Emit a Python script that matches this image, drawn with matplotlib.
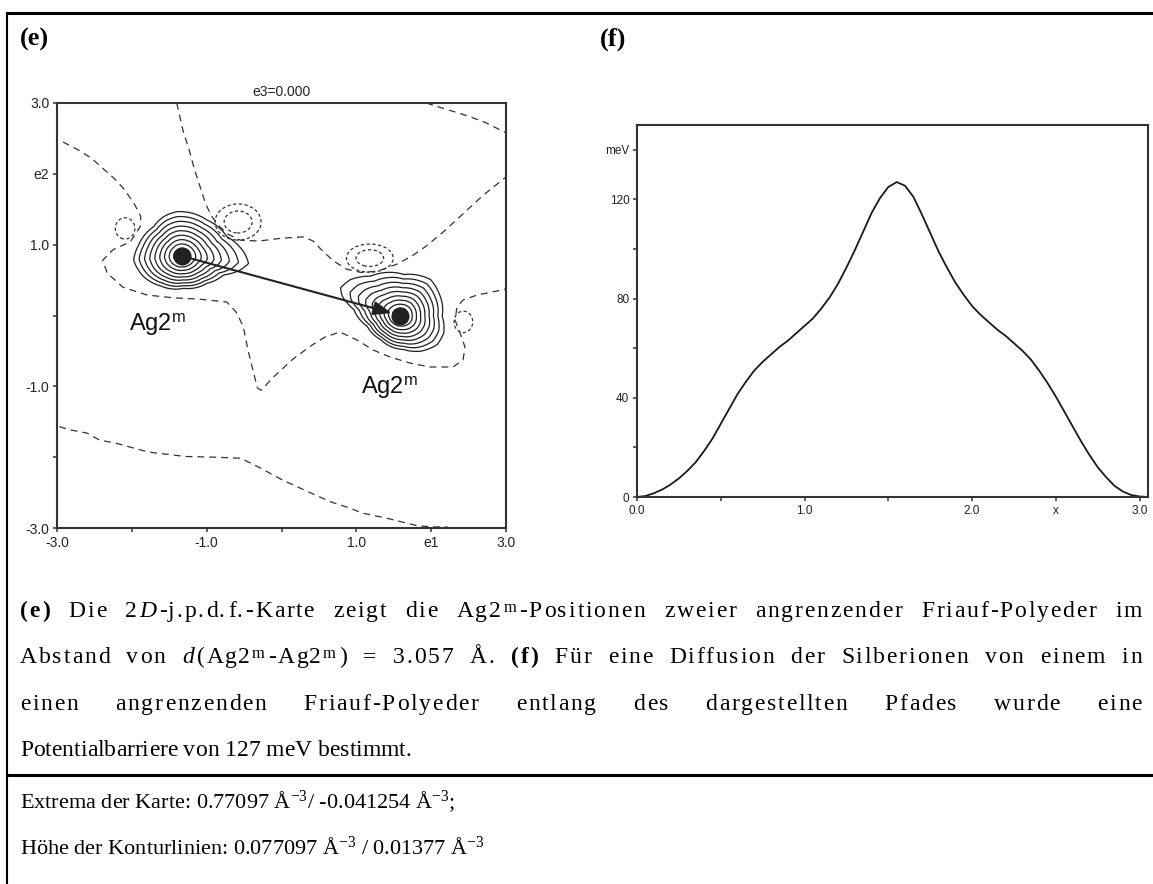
import re
import numpy as np
import matplotlib
matplotlib.use("Agg")
import matplotlib.pyplot as plt
from matplotlib.lines import Line2D

plt.rcParams['font.family'] = ['Liberation Sans', 'DejaVu Sans']
plt.rcParams['mathtext.fontset'] = 'custom'
plt.rcParams['mathtext.rm'] = 'Liberation Serif'
plt.rcParams['mathtext.it'] = 'Liberation Serif:italic'
plt.rcParams['mathtext.bf'] = 'Liberation Serif:bold'
plt.rcParams['mathtext.sf'] = 'Liberation Sans'

# ---------------- panel (e): 2D j.p.d.f. map ----------------
map_title = "e3=0.000"
map_ticks = [-3, -2, -1, 0, 1, 2, 3]
map_xticklabels = ["-3.0", "", "-1.0", "", "1.0", "e1", "3.0"]
map_yticklabels = ["-3.0", "", "-1.0", "", "1.0", "e2", "3.0"]

map_max = 0.77097
map_min = -0.041254
contour_step_pos = 0.077097
contour_step_neg = 0.01377

# Ag2m maxima (centres, heights, core width)
peak_x = [-1.33, 1.59]
peak_y = [0.84, 0.00]
peak_amp = [0.84, 0.84]
peak_core = [0.62, 0.58]

# outermost solid contour of each maximum, relative to its centre
left_outline_dx = [-0.067, 0.334, 0.601, 0.824, 0.891, 0.780, 0.557, 0.334, 0.022,
                   -0.290, -0.512, -0.646, -0.579, -0.379, -0.245]
left_outline_dy = [0.626, 0.508, 0.273, 0.061, -0.104, -0.198, -0.268, -0.386, -0.456,
                   -0.420, -0.292, -0.056, 0.155, 0.414, 0.555]
right_outline_dx = [-0.802, -0.668, -0.401, 0.045, 0.401, 0.512, 0.557, 0.579, 0.490,
                    0.267, 0.045, -0.267, -0.445, -0.624, -0.779]
right_outline_dy = [0.391, 0.508, 0.555, 0.579, 0.508, 0.320, -0.009, -0.245, -0.410,
                    -0.504, -0.480, -0.339, -0.151, 0.085, 0.273]

# negative minima (dashed rings)
dip_x = [-2.09, -0.58, 1.18, 2.43]
dip_y = [1.23, 1.32, 0.81, -0.09]
dip_amp = [0.022, 0.0413, 0.040, 0.022]
dip_sx = [0.135, 0.207, 0.214, 0.129]
dip_sy = [0.155, 0.172, 0.136, 0.156]

# zero-level contour lines (dashed)
zero_a_x = [-1.40, -1.314, -1.240, -1.165, -1.091, -1.017, -0.942, -0.843, -0.719, -0.545,
            -0.298, 0.0, 0.297, 0.421, 0.545, 0.694, 0.868, 1.066, 1.289, 1.537, 1.735,
            1.934, 2.182, 2.430, 2.678, 2.975, 3.0]
zero_a_y = [3.0, 2.603, 2.361, 2.069, 1.827, 1.585, 1.416, 1.271, 1.149, 1.062,
            1.052, 1.091, 1.110, 1.052, 0.916, 0.771, 0.655, 0.607, 0.627, 0.723, 0.834,
            0.980, 1.198, 1.440, 1.682, 1.935, 1.955]
zero_b_x = [1.934, 2.182, 2.479, 2.727, 3.0]
zero_b_y = [3.0, 2.918, 2.821, 2.724, 2.578]
zero_c_x = [-2.97, -2.80, -2.60, -2.43, -2.22, -1.785, -1.289, -0.893, -0.545, -0.298, 0.0,
            0.347, 0.662, 0.889, 1.084, 1.423, 1.824, 2.05, 2.22]
zero_c_y = [-1.57, -1.62, -1.66, -1.76, -1.80, -1.927, -1.990, -2.000, -2.015, -2.145, -2.315,
            -2.484, -2.633, -2.71, -2.79, -2.866, -2.97, -2.985, -2.985]
zero_d_x = [-2.92, -2.72, -2.54, -2.39, -2.23, -2.10, -1.97, -1.88, -1.89, -2.02, -2.25,
            -2.39, -2.33, -2.12, -1.80, -1.45, -1.09, -0.73, -0.60, -0.51, -0.446, -0.372,
            -0.322, -0.273, -0.099, 0.149, 0.397, 0.581, 0.782, 1.009, 1.223, 1.450, 1.717,
            1.985, 2.292, 2.426, 2.452, 2.386, 2.319, 2.345, 2.426, 2.613, 2.880, 3.0]
zero_d_y = [2.45, 2.34, 2.22, 2.08, 1.93, 1.78, 1.58, 1.40, 1.25, 1.04, 0.93,
            0.78, 0.60, 0.40, 0.29, 0.25, 0.23, 0.19, 0.04, -0.16, -0.498, -0.813,
            -1.021, -1.055, -0.861, -0.619, -0.425, -0.304, -0.233, -0.346, -0.487, -0.586, -0.671,
            -0.727, -0.727, -0.628, -0.445, -0.247, -0.064, 0.120, 0.219, 0.289, 0.346, 0.374]

atom_label = "Ag2$^{\\mathsf{m}}$"
atom_label_x = [-2.04, 1.06]
atom_label_y = [-0.12, -1.01]

# ---------------- panel (f): potential barrier ----------------
path_x = [0.00, 0.05, 0.10, 0.15, 0.20, 0.25, 0.30, 0.35, 0.40, 0.45, 0.50, 0.55, 0.60,
          0.65, 0.70, 0.75, 0.80, 0.85, 0.90, 0.95, 1.00, 1.05, 1.10, 1.15, 1.20, 1.25,
          1.30, 1.35, 1.40, 1.45, 1.50, 1.55, 1.60, 1.65, 1.70, 1.75, 1.80, 1.85, 1.90,
          1.95, 2.00, 2.05, 2.10, 2.15, 2.20, 2.25, 2.30, 2.35, 2.40, 2.45, 2.50, 2.55,
          2.60, 2.65, 2.70, 2.75, 2.80, 2.85, 2.90, 2.95, 3.00, 3.05]
energy_meV = [0, 0.4, 1.5, 3, 5, 7.5, 10.5, 14, 18.5, 23.5, 29.5, 35.5, 41.5,
              46.5, 51, 54.5, 57.5, 60.5, 63, 66, 69, 72, 76, 80.5, 86, 92.5,
              99.5, 107, 114.5, 120.5, 125, 127, 125.5, 121, 114, 106.5, 99, 92.5, 86.5,
              81.5, 77, 73.5, 70.5, 67.5, 65, 62, 59, 55.5, 51, 46, 40.5, 34.5,
              28.5, 22.5, 17, 12, 8, 4.5, 2.2, 0.8, 0.2, 0]
f_xticks = [0, 0.5, 1.0, 1.5, 2.0, 2.5, 3.0]
f_xticklabels = ["0.0", "", "1.0", "", "2.0", "x", "3.0"]
f_yticks = [0, 20, 40, 60, 80, 100, 120, 140]
f_yticklabels = ["0", "", "40", "", "80", "", "120", "meV"]

# ---------------- caption ----------------
caption_lines = [
    ["(e)", "Die", "2$\\mathit{D}$-j.p.d.f.-Karte", "zeigt", "die", "Ag2$^{\\mathrm{m}}$-Positionen",
     "zweier", "angrenzender", "Friauf-Polyeder", "im"],
    ["Abstand", "von", "$\\mathit{d}$(Ag2$^{\\mathrm{m}}$-Ag2$^{\\mathrm{m}}$)", "=", "3.057", "Å.",
     "(f)", "Für", "eine", "Diffusion", "der", "Silberionen", "von", "einem", "in"],
    ["einen", "angrenzenden", "Friauf-Polyeder", "entlang", "des", "dargestellten", "Pfades",
     "wurde", "eine"],
    ["Potentialbarriere", "von", "127", "meV", "bestimmt."],
]
bold_words = {"(e)", "(f)"}
info_lines = [
    f"Extrema der Karte: {map_max} Å$^{{-3}}$/ {map_min} Å$^{{-3}}$;",
    f"Höhe der Konturlinien: {contour_step_pos} Å$^{{-3}}$ / {contour_step_neg} Å$^{{-3}}$",
]

# =====================================================================
W, H = 1153, 884
fig = plt.figure(figsize=(W / 100, H / 100), dpi=100)


def rect(l, t, r, b):
    return [l / W, 1 - b / H, (r - l) / W, (b - t) / H]


def fy(py):
    return 1 - py / H


def style(ax, lsize):
    for s in ax.spines.values():
        s.set_linewidth(1.5)
        s.set_color('#333333')
    ax.tick_params(direction='out', length=3, width=1.1, color='#333333',
                   labelsize=lsize, pad=2.5, labelcolor='#222222')


# ---- panel (e)
ax1 = fig.add_axes(rect(57, 103, 506, 528))
gx = np.linspace(-3, 3, 721)
GX, GY = np.meshgrid(gx, gx)


def peak_field(cx, cy, amp, core, odx, ody):
    dx = GX - cx
    dy = GY - cy
    r = np.hypot(dx, dy)
    th = np.arctan2(dy, dx)
    oth = np.arctan2(ody, odx)
    orr = np.hypot(odx, ody)
    order = np.argsort(oth)
    R = np.interp(th, oth[order], orr[order], period=2 * np.pi)
    u1 = 1 - contour_step_pos / amp
    rho_out = R / u1
    s = np.clip(r / R, 0, 1)
    rho = core + (rho_out - core) * s
    return amp * np.clip(1 - r / rho, 0, None)


outlines = [(np.array(left_outline_dx), np.array(left_outline_dy)),
            (np.array(right_outline_dx), np.array(right_outline_dy))]
pos = np.zeros_like(GX)
for i in range(2):
    pos += peak_field(peak_x[i], peak_y[i], peak_amp[i], peak_core[i], *outlines[i])
neg = np.zeros_like(GX)
for i in range(len(dip_x)):
    neg -= dip_amp[i] * np.exp(-0.5 * (((GX - dip_x[i]) / dip_sx[i]) ** 2 +
                                       ((GY - dip_y[i]) / dip_sy[i]) ** 2))

pos_levels = contour_step_pos * np.arange(1, 11)
neg_levels = -contour_step_neg * np.arange(3, 0, -1)
ax1.contour(GX, GY, pos, levels=pos_levels, colors='#1e1e1e', linewidths=0.9)
cn = ax1.contour(GX, GY, neg, levels=neg_levels, colors='#333333', linewidths=0.9)
cn.set_linestyle((0, (2.6, 2.0)))

for zx, zy in [(zero_a_x, zero_a_y), (zero_b_x, zero_b_y), (zero_c_x, zero_c_y),
               (zero_d_x, zero_d_y)]:
    ax1.plot(zx, zy, color='#333333', lw=0.9, ls=(0, (5.5, 4.0)))

ax1.annotate('', xy=(peak_x[1], peak_y[1]), xytext=(peak_x[0], peak_y[0]),
             arrowprops=dict(arrowstyle='-|>,head_length=0.8,head_width=0.3',
                             lw=1.5, color='#222222', shrinkA=0, shrinkB=6.5,
                             mutation_scale=14), zorder=6)
ax1.plot(peak_x, peak_y, 'o', ms=13, color='#222222', zorder=7, mew=0)
for lx, ly in zip(atom_label_x, atom_label_y):
    ax1.text(lx, ly, atom_label, fontsize=17, ha='left', va='center', color='#111111')

ax1.set_xlim(-3, 3)
ax1.set_ylim(-3, 3)
ax1.set_xticks(map_ticks)
ax1.set_xticklabels(map_xticklabels)
ax1.set_yticks(map_ticks)
ax1.set_yticklabels(map_yticklabels)
ax1.set_title(map_title, fontsize=10, pad=5, color='#222222')
style(ax1, 10)

# ---- panel (f)
ax2 = fig.add_axes(rect(637, 125, 1148, 497))
ax2.plot(path_x, energy_meV, color='#1a1a1a', lw=1.3)
ax2.set_xlim(0, 3.05)
ax2.set_ylim(0, 150)
ax2.set_xticks(f_xticks)
ax2.set_xticklabels(f_xticklabels)
ax2.set_yticks(f_yticks)
ax2.set_yticklabels(f_yticklabels)
style(ax2, 8.5)

# ---- page frame
for (x0, x1, y0, y1, lw) in [(7, W, 13, 13, 2.2), (7, 7, 13, H, 1.5), (7, W, 775, 775, 2.2)]:
    fig.add_artist(Line2D([x0 / W, x1 / W], [fy(y0), fy(y1)], color='black', lw=lw,
                          transform=fig.transFigure))

serif = 'Liberation Serif'
fig.text(20 / W, fy(46), "(e)", fontsize=19, fontweight='bold', family=serif, va='baseline')
fig.text(600 / W, fy(46), "(f)", fontsize=19, fontweight='bold', family=serif, va='baseline')

# ---- caption: justified lines (slightly widened letters + word spacing)
fs_cap = 16
fs_body = 17
letter_extra = 1.8
renderer = fig.canvas.get_renderer()
x_left, x_right = 20, 1142
baselines = [617, 663, 710, 756]


def tokens(word):
    return re.findall(r'\$[^$]*\$|.', word)


def measure(s, weight, size):
    t = fig.text(0, 0, s, fontsize=size, family=serif, fontweight=weight)
    w = t.get_window_extent(renderer).width
    t.remove()
    return w


for i, words in enumerate(caption_lines):
    justify = i < len(caption_lines) - 1
    size = fs_body
    c = letter_extra if justify else 0.0
    info = []
    for w in words:
        weight = 'bold' if w in bold_words else 'normal'
        toks = tokens(w)
        offs = [0.0]
        for k in range(1, len(toks)):
            full = measure(''.join(toks[:k + 1]), weight, size)
            single = measure(toks[k], weight, size)
            offs.append(max(full - single, offs[-1] + 1.0))
        width = offs[-1] + measure(toks[-1], weight, size) + c * (len(toks) - 1)
        info.append((toks, offs, width, weight))
    widths = [it[2] for it in info]
    if justify:
        gap = (x_right - x_left - sum(widths)) / (len(words) - 1)
    else:
        gap = 0.25 * size * 100 / 72
    x = x_left
    for toks, offs, width, weight in info:
        for k, (tk, off) in enumerate(zip(toks, offs)):
            fig.text((x + off + c * k) / W, fy(baselines[i]), tk, fontsize=size,
                     family=serif, fontweight=weight, va='baseline', ha='left')
        x += width + gap

for j, line in enumerate(info_lines):
    fig.text(20 / W, fy(808 + 46 * j), line, fontsize=fs_cap, family=serif, va='baseline')

fig.savefig("out.png", dpi=100)
